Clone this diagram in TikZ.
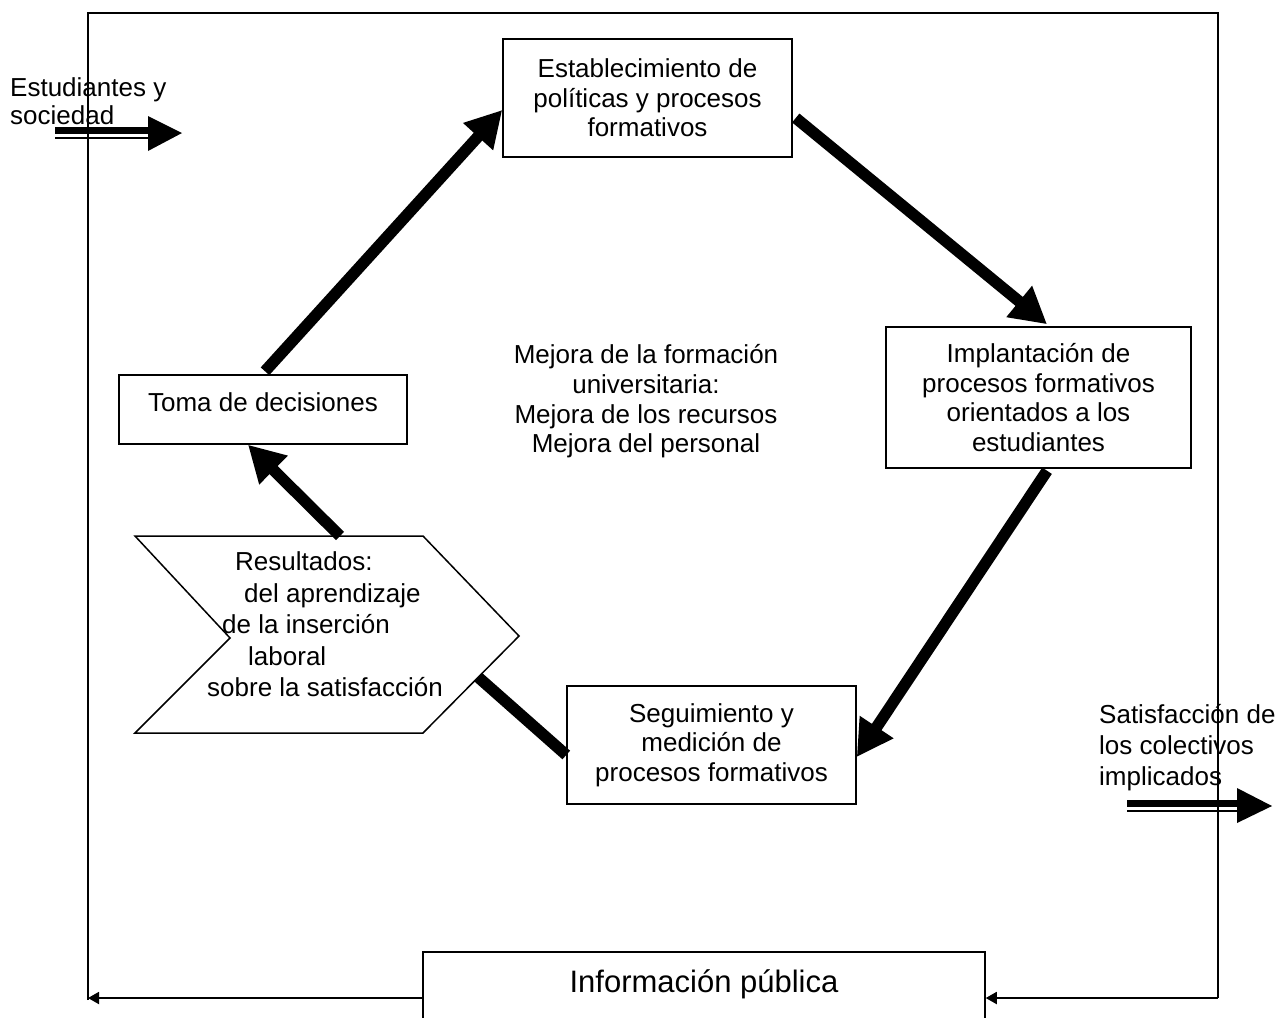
\documentclass[tikz,border=0pt]{standalone}
\usepackage{fontspec}
\setmainfont{Liberation Sans}
\usetikzlibrary{arrows.meta}
\begin{document}
\begin{tikzpicture}[x=1pt,y=-1pt,
  box/.style={draw, line width=1.5pt, align=center, inner sep=0pt, font=\fontsize{26}{29.5}\selectfont},
  txt/.style={inner sep=0pt, font=\fontsize{26}{29.5}\selectfont},
  bigarrow/.style={line width=11.5pt, -{Triangle[length=36pt,width=38pt]}},
  bar/.style={line width=11.5pt},
  thinarrow/.style={line width=1.8pt, -{Triangle[length=11pt,width=12pt]}},
  frameline/.style={line width=2pt}
]
\useasboundingbox (0,0) rectangle (1281,1017);

% frame
\draw[frameline] (88,1000) -- (88,13) -- (1218,13) -- (1218,998);

% boxes
\node[box, minimum width=289pt, minimum height=118pt] (est) at (647.5,98)
  {Establecimiento de\\políticas y procesos\\formativos};
\node[box, minimum width=305pt, minimum height=141pt] (imp) at (1038.5,397.5)
  {Implantación de\\procesos formativos\\orientados a los\\estudiantes};
\node[box, minimum width=288pt, text height=36pt, text depth=33pt] (toma) at (263,409.5)
  {Toma de decisiones};
\node[box, minimum width=289pt, minimum height=118pt] (seg) at (711.5,745)
  {Seguimiento y\\medición de\\procesos formativos};
\node[box, fill=white, minimum width=562pt, text height=40pt, text depth=52pt,
  font=\fontsize{31}{35}\selectfont] (info) at (704,998) {Información pública};

% chevron (Resultados)
\draw[line width=1.5pt, fill=white] (135,536) -- (423,536) -- (519,636) -- (423,733)
  -- (135,733) -- (230,638) -- cycle;
\coordinate (resA) at (340,536);
\coordinate (resB) at (478,677);
\node[txt, anchor=north west, align=left, font=\fontsize{26}{31.5}\selectfont] (res) at (207,551.7)
  {\hspace*{28pt}Resultados:\\\hspace*{37pt}del aprendizaje\\\hspace*{15pt}de la inserción\\\hspace*{41pt}laboral\\sobre la satisfacción};

% centre text
\node[txt, anchor=north, align=center, font=\fontsize{26}{29.7}\selectfont] (mid) at (646,344.5)
  {Mejora de la formación\\universitaria:\\Mejora de los recursos\\Mejora del personal};

% side texts
\node[txt, anchor=north west, align=left, font=\fontsize{26}{28}\selectfont] (inp) at (10,77.5)
  {Estudiantes y\\sociedad};
\node[txt, anchor=north west, align=left, font=\fontsize{26}{31}\selectfont] (outp) at (1099,704.5)
  {Satisfacción de\\los colectivos\\implicados};

% cycle arrows
\draw[bigarrow] ([xshift=2pt,yshift=3pt]toma.north) -- ([yshift=-12pt]est.west);
\draw[bigarrow] ([xshift=3pt,yshift=-20pt]est.east) -- ([xshift=8.5pt,yshift=2pt]imp.north);
\draw[bigarrow] ([xshift=8.5pt,yshift=-2pt]imp.south) -- ([yshift=-12pt]seg.east);
\draw[bar] ([yshift=-10pt]seg.west) -- (resB);
\draw[bigarrow] (resA) -- ([xshift=-15pt]toma.south);

% input double arrow
\coordinate (inA) at (55,130.5);
\coordinate (inB) at (148,130.5);
\coordinate (inC) at (55,138);
\coordinate (inD) at (148,138);
\draw[line width=7pt] (inA) -- (inB);
\draw[line width=2pt] (inC) -- (inD);
\fill (148,116) -- (182,133) -- (148,151) -- cycle;

% output double arrow
\coordinate (outA) at (1127,803.5);
\coordinate (outB) at (1237,803.5);
\coordinate (outC) at (1127,811);
\coordinate (outD) at (1237,811);
\draw[line width=7pt] (outA) -- (outB);
\draw[line width=2pt] (outC) -- (outD);
\fill (1237,788) -- (1272,806) -- (1237,823) -- cycle;

% bottom information arrows
\coordinate (frBR) at (1218,998);
\coordinate (frBL) at (88,998);
\draw[thinarrow] (frBR) -- (info.east);
\draw[thinarrow] (info.west) -- (frBL);
\end{tikzpicture}
\end{document}
